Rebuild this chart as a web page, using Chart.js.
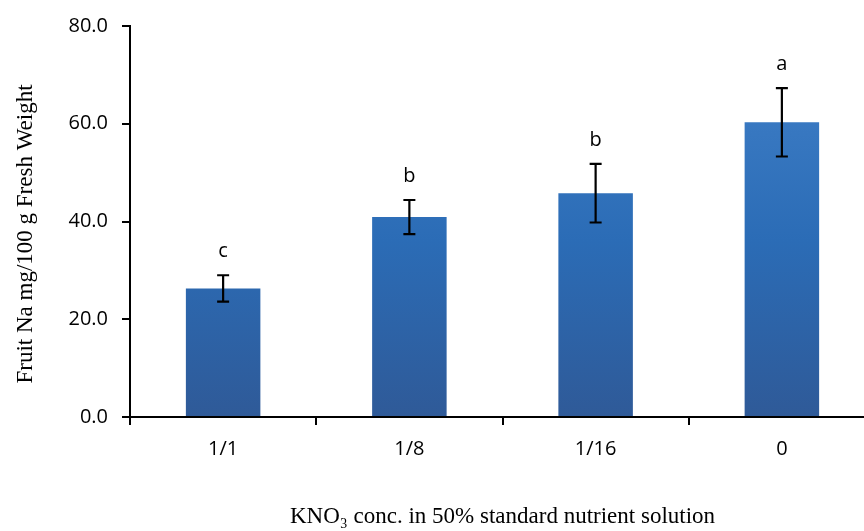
<!DOCTYPE html>
<html lang="en">
<head>
  <meta charset="UTF-8">
  <title>Fruit Na</title>
  <script src="https://cdn.jsdelivr.net/npm/chart.js"></script>
  <style>
    body { margin: 0; background: #fff; overflow: hidden; }
    #wrap { width: 875px; height: 531px; }
  </style>
</head>
<body>
  <div id="wrap"><canvas id="chart"></canvas></div>
  <script>
    const categories = ['1/1', '1/8', '1/16', '0'];
    const naValues = [26.3, 40.9, 45.8, 60.3];
    const naErrors = [2.7, 3.5, 6.0, 7.0];
    const letters = ['c', 'b', 'b', 'a'];

    const ctx = document.getElementById('chart').getContext('2d');

    function barGradient(context) {
      const area = context.chart.chartArea;
      if (!area) return '#2c6db6';
      const g = context.chart.ctx.createLinearGradient(0, area.top, 0, area.bottom);
      g.addColorStop(0, '#4382ca');
      g.addColorStop(0.55, '#2b6cb6');
      g.addColorStop(1, '#2f5a98');
      return g;
    }

    // error bars, significance letters and the y axis title
    const errorBars = {
      id: 'errorBars',
      afterDatasetsDraw(chart) {
        const c = chart.ctx;
        const x = chart.scales.x, y = chart.scales.y;
        c.save();
        c.strokeStyle = '#000';
        c.lineWidth = 2.2;
        c.fillStyle = '#000';
        c.font = '20px "Open Sans", sans-serif';
        c.textAlign = 'center';
        c.textBaseline = 'alphabetic';
        naValues.forEach((v, i) => {
          const cx = x.getPixelForValue(i);
          const top = y.getPixelForValue(v + naErrors[i]);
          const bot = y.getPixelForValue(v - naErrors[i]);
          c.beginPath();
          c.moveTo(cx, top); c.lineTo(cx, bot);
          c.moveTo(cx - 6, top); c.lineTo(cx + 6, top);
          c.moveTo(cx - 6, bot); c.lineTo(cx + 6, bot);
          c.stroke();
          c.fillText(letters[i], cx, top - 18);
        });

        c.translate(26, 234);
        c.rotate(-Math.PI / 2);
        c.textBaseline = 'middle';
        c.font = '23px "Liberation Serif", serif';
        c.fillText('Fruit Na mg/100 g Fresh Weight', 0, 0);
        c.restore();
      }
    };

    new Chart(ctx, {
      type: 'bar',
      data: {
        labels: categories,
        datasets: [{
          data: naValues,
          backgroundColor: barGradient,
          borderWidth: 0,
          categoryPercentage: 1.0,
          barPercentage: 0.4
        }]
      },
      options: {
        responsive: true,
        maintainAspectRatio: false,
        animation: false,
        layout: { padding: { top: 23, right: 0, bottom: 0, left: 0 } },
        plugins: { legend: { display: false }, tooltip: { enabled: false } },
        scales: {
          y: {
            min: 0, max: 80,
            afterFit(scale) { scale.width = 130; },
            ticks: {
              stepSize: 20,
              color: '#000',
              padding: 14,
              font: { family: '"Open Sans", sans-serif', size: 20 },
              callback: v => v.toFixed(1)
            },
            grid: { drawOnChartArea: false, color: '#000', tickLength: 8, lineWidth: 2 },
            border: { color: '#000', width: 2 }
          },
          x: {
            afterFit(scale) { scale.height = 114; },
            ticks: {
              color: '#000',
              padding: 12,
              font: { family: '"Open Sans", sans-serif', size: 20 }
            },
            grid: { drawOnChartArea: false, color: '#000', tickLength: 8, lineWidth: 2 },
            border: { color: '#000', width: 2 },
            title: {
              display: true,
              text: 'KNO\u2083 conc. in 50% standard nutrient solution',
              color: '#000',
              font: { family: '"Liberation Serif", serif', size: 23 },
              padding: { top: 36, bottom: 0 }
            }
          }
        }
      },
      plugins: [errorBars]
    });
  </script>
</body>
</html>
